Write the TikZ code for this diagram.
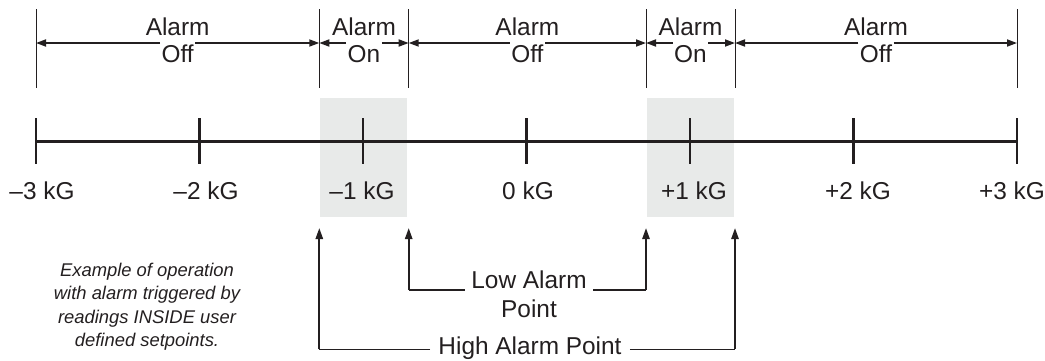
\documentclass[tikz,border=0pt]{standalone}
\usepackage{fontspec}
\setmainfont{Liberation Sans}
\usetikzlibrary{arrows.meta}
\definecolor{ink}{HTML}{231F20}
\definecolor{shade}{HTML}{E8EAE9}
\begin{document}
\begin{tikzpicture}[x=0.5pt,y=-0.5pt,
  lbl/.style={font=\fontsize{12.2}{13.5}\selectfont, text=ink, inner sep=0pt},
  offlbl/.style={lbl, inner xsep=0.6pt},
  shadebox/.style={fill=shade, draw=none, inner sep=0pt, minimum width=43.5pt, minimum height=59.5pt},
  axis/.style={draw=ink, line width=1.25pt},
  bound/.style={draw=ink, line width=0.5pt},
  tarr/.style={draw=ink, line width=0.85pt, -{Triangle[length=5pt,width=3.5pt]}},
  barr/.style={draw=ink, line width=1pt, -{Triangle[length=5.5pt,width=3.6pt]}},
  hline/.style={draw=ink, line width=0.55pt},
  note/.style={font=\fontsize{9.2}{11.67}\selectfont\itshape, text=ink, align=center, inner sep=0pt}
]
\useasboundingbox (0,0) rectangle (1045,360);

% shaded alarm-on bands
\node[shadebox] (box1) at (363.5,157.5) {};
\node[shadebox] (box2) at (690.5,157.5) {};

% scale axis
\foreach \i in {0,...,6} {\coordinate (k\i) at (36+163.5*\i,141.5);}
\draw[axis] (k0) -- (k6);
\foreach \i in {0,...,6} {\draw[axis] (k\i) ++(0,-23.5) -- ++(0,46);}

% scale labels
\node[lbl, anchor=base] (l0) at (42,199) {--3 kG};
\node[lbl, anchor=base] (l1) at (206,199) {--2 kG};
\node[lbl, anchor=base] (l2) at (362,199) {--1 kG};
\node[lbl, anchor=base] (l3) at (528,199) {0 kG};
\node[lbl, anchor=base] (l4) at (694,199) {+1 kG};
\node[lbl, anchor=base] (l5) at (858,199) {+2 kG};
\node[lbl, anchor=base] (l6) at (1012,199) {+3 kG};

% top boundaries
\foreach \x [count=\j from 0] in {36,319.3,408.7,646,735,1017} {
  \coordinate (vt\j) at (\x,9);
  \coordinate (vb\j) at (\x,88);
  \coordinate (a\j) at (\x,43);
}
\foreach \j in {0,...,5} {\draw[bound] (vt\j) -- (vb\j);}

% top labels
\foreach \c/\w [count=\j from 0] in {177.65/Off,364/On,527.35/Off,690.5/On,876/Off} {
  \node[lbl, anchor=base] (al\j) at (\c,35) {Alarm};
  \node[offlbl, anchor=base] (st\j) at (\c,62) {\w};
}
\foreach \j [evaluate=\j as \k using int(\j+1)] in {0,...,4} {
  \draw[tarr] (st\j.west |- a\j) -- (a\j);
  \draw[tarr] (st\j.east |- a\k) -- (a\k);
}

% bottom setpoint arrows
\coordinate (hi1) at (319.3,228);
\coordinate (lo1) at (408.7,228);
\coordinate (lo2) at (646,228);
\coordinate (hi2) at (735,228);
\coordinate (lo1b) at (408.7,290);
\coordinate (lo2b) at (646,290);
\coordinate (hi1b) at (319.3,349.3);
\coordinate (hi2b) at (735,349.3);

\node[lbl, anchor=base, inner xsep=3pt] (low) at (529,288.5) {Low Alarm};
\node[lbl, anchor=base] (lowp) at (529,317) {Point};
\node[lbl, anchor=base, inner xsep=4pt] (high) at (530,354.5) {High Alarm Point};

\draw[hline] (low.west |- lo1b) -- (lo1b);
\draw[hline] (low.east |- lo2b) -- (lo2b);
\draw[barr] (lo1b) -- (lo1);
\draw[barr] (lo2b) -- (lo2);
\draw[hline] (high.west |- hi1b) -- (hi1b);
\draw[hline] (high.east |- hi2b) -- (hi2b);
\draw[barr] (hi1b) -- (hi1);
\draw[barr] (hi2b) -- (hi2);

% note
\node[note] (txt) at (147,306.7) {Example of operation\\with alarm triggered by\\readings INSIDE user\\defined setpoints.};
\end{tikzpicture}
\end{document}
